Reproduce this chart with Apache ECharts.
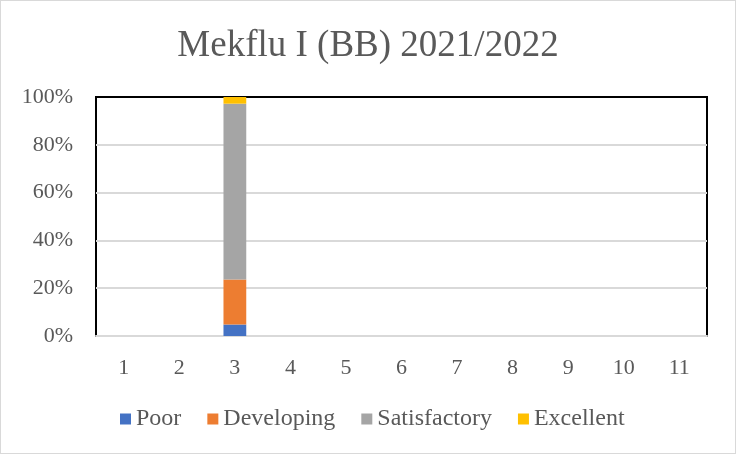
<!DOCTYPE html>
<html lang="en">
  <head>
    <meta charset="UTF-8" />
    <title>Mekflu I (BB) 2021/2022</title>
    <style>
      body { margin: 0; background: #fff; }
      #main { width: 734px; height: 452px; border: 1px solid #d9d9d9; }
    </style>
  </head>
  <body>
    <div id="main"></div>

    <script src="https://cdn.jsdelivr.net/npm/echarts@6/dist/echarts.min.js"></script>
    <script>
      // data
      var categories = ["1", "2", "3", "4", "5", "6", "7", "8", "9", "10", "11"];
      var poor = [null, null, 4.8, null, null, null, null, null, null, null, null];
      var developing = [null, null, 18.8, null, null, null, null, null, null, null, null];
      var satisfactory = [null, null, 73.6, null, null, null, null, null, null, null, null];
      var excellent = [null, null, 2.8, null, null, null, null, null, null, null, null];

      var seriesNames = ["Poor", "Developing", "Satisfactory", "Excellent"];
      var seriesData = [poor, developing, satisfactory, excellent];
      var colors = ["#4472C4", "#ED7D31", "#A5A5A5", "#FFC000"];

      var textColor = "#595959";
      var font = "'Liberation Serif', 'Times New Roman', serif";

      var myChart = echarts.init(document.getElementById("main"), null, {
        renderer: "canvas",
      });

      var option = {
        backgroundColor: "#fff",
        color: colors,
        textStyle: { fontFamily: font },
        title: {
          text: "Mekflu I (BB) 2021/2022",
          left: "center",
          top: 22,
          textStyle: {
            fontFamily: font,
            fontSize: 37,
            fontWeight: "normal",
            color: textColor,
          },
        },
        legend: {
          bottom: 17,
          left: 114,
          icon: "rect",
          itemWidth: 11,
          itemHeight: 11,
          itemGap: 26,
          textStyle: { fontFamily: font, fontSize: 24, color: textColor },
          data: seriesNames,
        },
        grid: {
          left: 95,
          right: 28,
          top: 96,
          bottom: 117,
          show: true,
          borderColor: "#000",
          borderWidth: 2,
        },
        xAxis: {
          type: "category",
          data: categories,
          axisLine: { lineStyle: { color: "#d9d9d9", width: 2 } },
          axisTick: { show: false },
          axisLabel: { fontFamily: font, fontSize: 22, color: textColor, margin: 21 },
        },
        yAxis: {
          type: "value",
          min: 0,
          max: 100,
          interval: 20,
          axisLine: { show: false },
          axisTick: { show: false },
          axisLabel: {
            formatter: "{value}%",
            fontFamily: font,
            fontSize: 22,
            color: textColor,
            margin: 23,
          },
          splitLine: {
            lineStyle: {
              color: ["#d9d9d9", "#d9d9d9", "#d9d9d9", "#d9d9d9", "#d9d9d9", "#000"],
              width: 2,
            },
          },
        },
        series: seriesNames.map(function (name, i) {
          return {
            name: name,
            type: "bar",
            stack: "total",
            barWidth: "41%",
            data: seriesData[i],
          };
        }),
      };
      myChart.setOption(option);
    </script>
  </body>
</html>
